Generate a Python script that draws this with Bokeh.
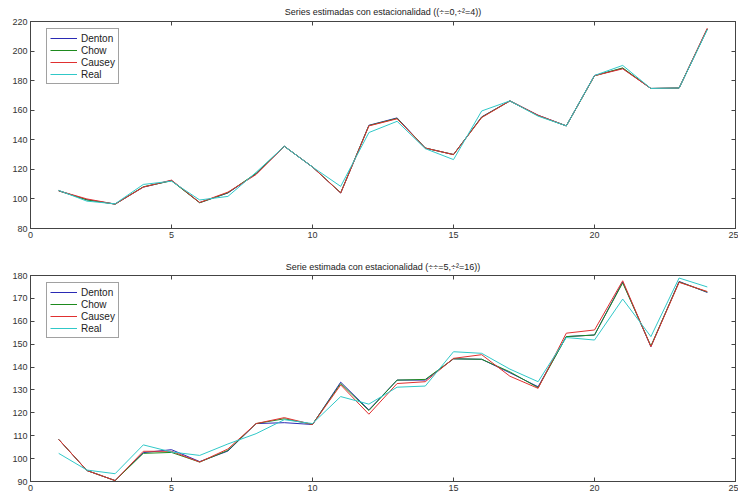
from bokeh.plotting import figure
from bokeh.layouts import column
from bokeh.models import (LinearAxis, Range1d, FixedTicker, Legend, LegendItem,
                          CustomLabelingPolicy)
from bokeh.embed import file_html
from bokeh.resources import INLINE

x = list(range(1, 25))

# Top panel: sigma=0, sigma^2=4
top_denton = [105.5, 99.5, 96.5, 108.0, 112.5, 97.5, 104.0, 117.0, 135.6, 121.6, 104.0, 149.8,
              154.8, 134.4, 130.0, 155.5, 166.3, 156.6, 149.4, 183.5, 188.3, 174.7, 175.0, 215.0]
top_chow = [105.5, 99.3, 96.5, 108.2, 112.3, 97.4, 104.2, 117.3, 135.6, 121.6, 104.2, 149.6,
            154.5, 134.4, 130.0, 155.3, 166.3, 156.3, 149.4, 183.3, 188.6, 174.7, 175.0, 214.9]
top_causey = [105.5, 100.0, 96.5, 108.0, 112.7, 97.6, 104.6, 116.5, 135.6, 121.6, 104.0, 149.4,
              154.2, 134.4, 130.0, 155.0, 166.3, 156.6, 149.4, 183.3, 188.0, 174.7, 175.0, 215.5]
top_real = [105.8, 98.5, 96.7, 109.8, 112.0, 99.3, 101.7, 118.0, 135.6, 121.6, 108.5, 144.9,
            152.5, 134.0, 126.6, 159.5, 166.3, 156.0, 149.4, 183.5, 190.3, 174.7, 175.0, 214.5]

# Bottom panel: mu=5, sigma^2=16
bot_denton = [108.4, 94.8, 90.4, 102.6, 103.9, 98.7, 103.3, 115.3, 115.7, 114.9, 133.4, 121.3,
              134.3, 134.3, 143.6, 143.4, 137.5, 131.4, 153.3, 154.0, 177.2, 148.9, 177.4, 172.6]
bot_chow = [108.4, 94.8, 90.4, 102.3, 102.7, 98.5, 103.6, 115.3, 117.4, 115.0, 132.8, 121.0,
            134.3, 134.6, 143.6, 143.4, 137.9, 131.0, 153.3, 154.0, 176.8, 149.2, 177.2, 172.8]
bot_causey = [108.4, 94.8, 90.4, 103.2, 103.2, 98.5, 104.2, 115.3, 117.9, 114.9, 132.2, 119.4,
              132.8, 133.6, 143.8, 145.4, 136.0, 130.7, 154.8, 156.2, 177.7, 148.9, 177.0, 173.0]
bot_real = [102.3, 95.0, 93.4, 106.0, 102.9, 101.4, 106.4, 110.9, 117.0, 115.3, 127.1, 123.8,
            131.2, 131.7, 146.7, 146.0, 139.1, 133.6, 152.9, 151.8, 169.7, 153.3, 178.9, 175.0]

names = ["Denton", "Chow", "Causey", "Real"]
colors = ["#2a2ab4", "#1e8a1e", "#e03030", "#30c8c8"]

x_ticks = [0, 5, 10, 15, 20, 25]
top_yticks = [80, 100, 120, 140, 160, 180, 200, 220]
bot_yticks = [90, 100, 110, 120, 130, 140, 150, 160, 170, 180]

titles = ["Series estimadas con estacionalidad ((\u00f7=0,\u00f7\u00b2=4))",
          "Serie estimada con estacionalidad (\u00f7\u00f7=5,\u00f7\u00b2=16))"]

FONT = "Liberation Sans"
AXC = "#444444"

NO_LABELS = CustomLabelingPolicy(code="""
    const all = [...indices]
    for (const i of all) indices.unset(i)
    return indices
""")


def make_fig(series, yr, yticks, title, h, mbt, mbb, fh, tstand, leg_off):
    p = figure(width=738, height=h, output_backend="svg", toolbar_location=None,
               x_range=Range1d(0, 25), y_range=Range1d(*yr),
               min_border_left=30, min_border_right=3, min_border_top=mbt, min_border_bottom=mbb,
               background_fill_color="white", border_fill_color="white")
    p.title.text = title
    p.title.align = "center"
    p.title.text_font = FONT
    p.title.text_font_size = "9px"
    p.title.text_font_style = "normal"
    p.title.text_color = "#222222"
    p.title.standoff = tstand
    p.grid.visible = False
    p.outline_line_color = AXC
    p.outline_line_width = 1
    for ax, tk in ((p.xaxis[0], x_ticks), (p.yaxis[0], yticks)):
        ax.ticker = FixedTicker(ticks=tk)
        ax.minor_tick_line_color = None
        ax.major_tick_in = 4
        ax.major_tick_out = 0
        ax.axis_line_color = AXC
        ax.major_tick_line_color = AXC
        ax.major_label_text_font = FONT
        ax.major_label_text_font_size = "9px"
        ax.major_label_text_color = "#333333"
        ax.major_label_standoff = 3
    for loc, tk in (("right", yticks), ("above", x_ticks)):
        ax = LinearAxis(ticker=FixedTicker(ticks=tk), major_label_policy=NO_LABELS)
        ax.minor_tick_line_color = None
        ax.major_tick_in = 4
        ax.major_tick_out = 0
        ax.axis_line_color = AXC
        ax.major_tick_line_color = AXC
        ax.major_label_standoff = 0
        ax.major_label_text_font_size = "0px"
        p.add_layout(ax, loc)
    items = []
    for name, col, ys in zip(names, colors, series):
        r = p.line(x, ys, line_color=col, line_width=1)
        items.append(LegendItem(label=name, renderers=[r]))
    leg = Legend(items=items, location=(16, fh - leg_off - 54))
    leg.label_text_font = FONT
    leg.label_text_font_size = "10px"
    leg.label_text_color = "#222222"
    leg.glyph_width = 27
    leg.glyph_height = 12
    leg.label_height = 12
    leg.label_standoff = 4
    leg.spacing = 0
    leg.padding = 3
    leg.margin = 0
    leg.border_line_color = AXC
    leg.border_line_width = 1
    leg.background_fill_color = "white"
    p.add_layout(leg, "center")
    return p


p1 = make_fig([top_denton, top_chow, top_causey, top_real], (80, 220), top_yticks,
              titles[0], 250, 20, 22, 208, 9, 10)
p2 = make_fig([bot_denton, bot_chow, bot_causey, bot_real], (90, 180), bot_yticks,
              titles[1], 246, 25, 15, 206, 8, 9)

layout = column(p1, p2, spacing=0)
open("out.html", "w").write(file_html(layout, INLINE))
